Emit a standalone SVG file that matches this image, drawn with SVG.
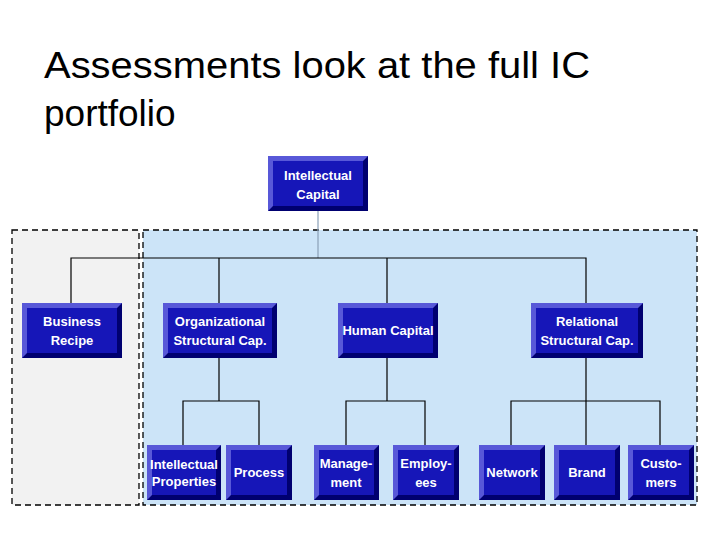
<svg xmlns="http://www.w3.org/2000/svg" width="720" height="540" viewBox="0 0 720 540">
<style>
.o{fill:#000070}.b{fill:#5858d8}.f{fill:#1616b8}
.t{font-family:"Liberation Sans",Arial,sans-serif;font-weight:bold;fill:#fff;font-size:13px;text-anchor:middle}
.c{fill:none;stroke:#000;stroke-width:1.2}
</style>
<rect width="720" height="540" fill="#fff"/>
<text x="44" y="78" font-family="Liberation Sans,Arial,sans-serif" font-size="37" textLength="546" lengthAdjust="spacingAndGlyphs" fill="#000">Assessments look at the full IC</text>
<text x="44" y="126" font-family="Liberation Sans,Arial,sans-serif" font-size="37" fill="#000">portfolio</text>
<rect x="12" y="230" width="127" height="275" fill="#f2f2f2" stroke="#000" stroke-width="1.3" stroke-dasharray="6,4"/>
<rect x="143" y="230" width="554" height="275" fill="#cce4f8" stroke="#000" stroke-width="1.3" stroke-dasharray="6,4"/>
<g id="connectors">
<line x1="318" y1="210" x2="318" y2="258" stroke="#8aa0b8" stroke-width="1.2"/>
<path class="c" d="M71 303V258H586V303M219 258V303M387 258V303"/>
<path class="c" d="M219 357V401M183 445V401H259V445"/>
<path class="c" d="M387 357V401M346 445V401H425V445"/>
<path class="c" d="M586 357V401M511 445V401H660V445M586 401V445"/>
</g>
<g id="ic"><rect class="o" x="268" y="156" width="100" height="55"/><polygon class="b" points="268,156 368,156 363,161 273,161 273,206 268,211"/><rect class="f" x="273" y="161" width="90" height="45"/><text class="t" x="318" y="180">Intellectual</text><text class="t" x="318" y="199">Capital</text></g>
<g id="br"><rect class="o" x="22" y="303" width="100" height="55"/><polygon class="b" points="22,303 122,303 117,308 27,308 27,353 22,358"/><rect class="f" x="27" y="308" width="90" height="45"/><text class="t" x="72" y="326">Business</text><text class="t" x="72" y="345">Recipe</text></g>
<g id="org"><rect class="o" x="163" y="303" width="114" height="55"/><polygon class="b" points="163,303 277,303 272,308 168,308 168,353 163,358"/><rect class="f" x="168" y="308" width="104" height="45"/><text class="t" x="220" y="326" font-size="12">Organizational</text><text class="t" x="220" y="345" font-size="12">Structural Cap.</text></g>
<g id="hc"><rect class="o" x="338" y="303" width="100" height="55"/><polygon class="b" points="338,303 438,303 433,308 343,308 343,353 338,358"/><rect class="f" x="343" y="308" width="90" height="45"/><text class="t" x="388" y="335">Human Capital</text></g>
<g id="rel"><rect class="o" x="531" y="303" width="112" height="55"/><polygon class="b" points="531,303 643,303 638,308 536,308 536,353 531,358"/><rect class="f" x="536" y="308" width="102" height="45"/><text class="t" x="587" y="326" font-size="12">Relational</text><text class="t" x="587" y="345" font-size="12">Structural Cap.</text></g>
<g id="ip"><rect class="o" x="147" y="445" width="74" height="55"/><polygon class="b" points="147,445 221,445 216,450 152,450 152,495 147,500"/><rect class="f" x="152" y="450" width="64" height="45"/><text class="t" x="184" y="469" font-size="11">Intellectual</text><text class="t" x="184" y="486" font-size="11">Properties</text></g>
<g id="proc"><rect class="o" x="226" y="445" width="66" height="55"/><polygon class="b" points="226,445 292,445 287,450 231,450 231,495 226,500"/><rect class="f" x="231" y="450" width="56" height="45"/><text class="t" x="259" y="477">Process</text></g>
<g id="mgmt"><rect class="o" x="314" y="445" width="65" height="55"/><polygon class="b" points="314,445 379,445 374,450 319,450 319,495 314,500"/><rect class="f" x="319" y="450" width="55" height="45"/><text class="t" x="346" y="468">Manage-</text><text class="t" x="346" y="487">ment</text></g>
<g id="emp"><rect class="o" x="393" y="445" width="66" height="55"/><polygon class="b" points="393,445 459,445 454,450 398,450 398,495 393,500"/><rect class="f" x="398" y="450" width="56" height="45"/><text class="t" x="426" y="468">Employ-</text><text class="t" x="426" y="487">ees</text></g>
<g id="net"><rect class="o" x="479" y="445" width="66" height="55"/><polygon class="b" points="479,445 545,445 540,450 484,450 484,495 479,500"/><rect class="f" x="484" y="450" width="56" height="45"/><text class="t" x="512" y="477">Network</text></g>
<g id="brand"><rect class="o" x="554" y="445" width="66" height="55"/><polygon class="b" points="554,445 620,445 615,450 559,450 559,495 554,500"/><rect class="f" x="559" y="450" width="56" height="45"/><text class="t" x="587" y="477">Brand</text></g>
<g id="cust"><rect class="o" x="628" y="445" width="66" height="55"/><polygon class="b" points="628,445 694,445 689,450 633,450 633,495 628,500"/><rect class="f" x="633" y="450" width="56" height="45"/><text class="t" x="661" y="468">Custo-</text><text class="t" x="661" y="487">mers</text></g>
</svg>
